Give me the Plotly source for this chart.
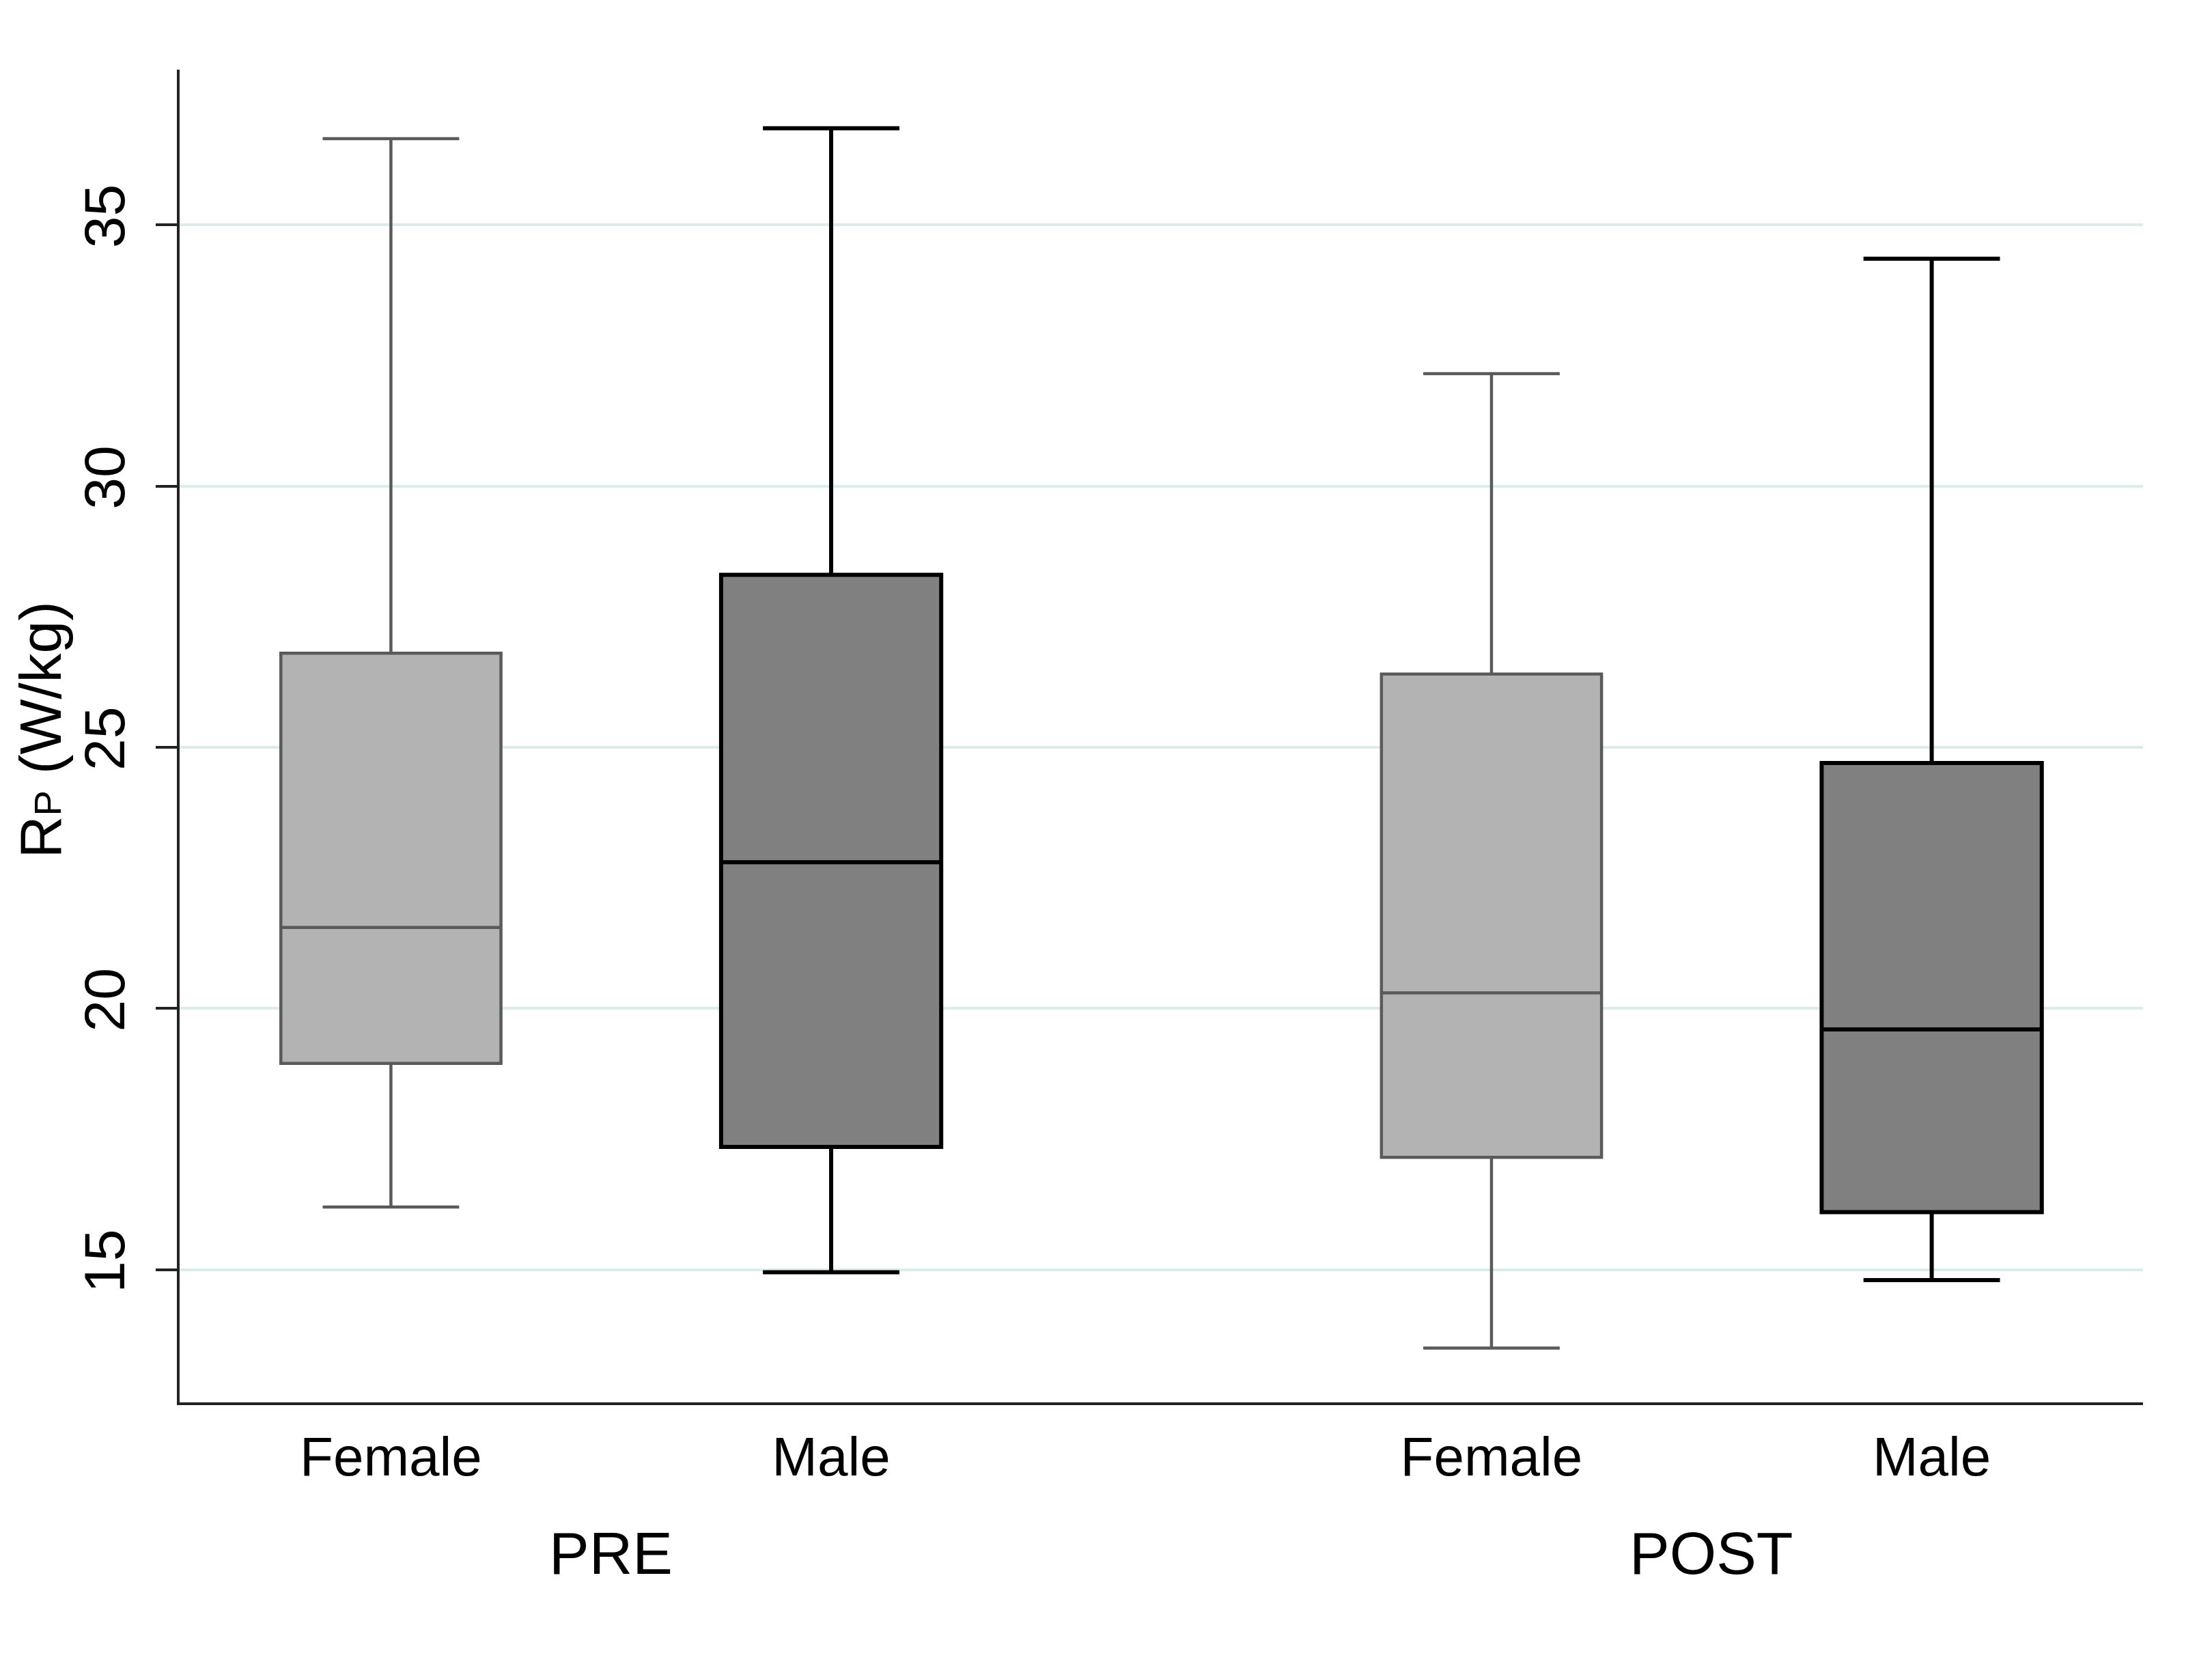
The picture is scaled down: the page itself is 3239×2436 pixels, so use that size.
import plotly.graph_objects as go

# ---- data ----
groups = ["PRE", "PRE", "POST", "POST"]
sexes = ["Female", "Male", "Female", "Male"]
positions = [1.0, 2.0, 3.5, 4.5]
lower_whisker = [16.2, 14.95, 13.5, 14.8]
q1_vals = [18.95, 17.35, 17.15, 16.1]
median_vals = [21.55, 22.8, 20.3, 19.6]
q3_vals = [26.8, 28.3, 26.4, 24.7]
upper_whisker = [36.65, 36.85, 32.15, 34.35]
y_ticks = [15, 20, 25, 30, 35]
group_labels = ["PRE", "POST"]
group_centers = [1.5, 4.0]

FONT = "Liberation Sans, Arial, sans-serif"
style = {
    "Female": dict(fill="#b3b3b3", line="#5a5a5a", width=4.5),
    "Male": dict(fill="#808080", line="#000000", width=6),
}

fig = go.Figure()
for i in range(len(positions)):
    s = style[sexes[i]]
    fig.add_trace(go.Box(
        x=[positions[i]],
        q1=[q1_vals[i]], median=[median_vals[i]], q3=[q3_vals[i]],
        lowerfence=[lower_whisker[i]], upperfence=[upper_whisker[i]],
        width=0.5, whiskerwidth=0.62,
        fillcolor=s["fill"], line=dict(color=s["line"], width=s["width"]),
        boxpoints=False, showlegend=False, hoverinfo="skip",
    ))

for lbl, cx in zip(group_labels, group_centers):
    fig.add_annotation(text=lbl, x=cx, xref="x", y=-0.113, yref="paper",
                       showarrow=False, yanchor="middle",
                       font=dict(family=FONT, size=88, color="#000"))

fig.add_annotation(
    text="R<span style='font-size:56px'>P</span> (W/kg)",
    x=-0.071, xref="paper", y=0.505, yref="paper", textangle=-90,
    showarrow=False, xanchor="center", yanchor="middle",
    font=dict(family=FONT, size=86, color="#000"))

fig.update_layout(
    width=3239, height=2436,
    margin=dict(l=255, r=109, t=94, b=391),
    paper_bgcolor="white", plot_bgcolor="white",
    font=dict(family=FONT, color="#000"),
)
fig.update_xaxes(
    range=[0.52, 4.98], tickvals=positions, ticktext=sexes,
    showgrid=False, zeroline=False, showline=True, linecolor="#222",
    linewidth=4, ticks="", ticklabelstandoff=7,
    tickfont=dict(family=FONT, size=80, color="#000"),
)
fig.update_yaxes(
    range=[12.46, 37.97], tickvals=y_ticks, tickangle=-90,
    showgrid=True, gridcolor="#dcecec", gridwidth=4, zeroline=False,
    showline=True, linecolor="#222", linewidth=4,
    ticks="outside", ticklen=31, tickwidth=4, tickcolor="#222",
    ticklabelstandoff=12,
    tickfont=dict(family=FONT, size=84, color="#000"),
)

fig.write_html("out.html")
